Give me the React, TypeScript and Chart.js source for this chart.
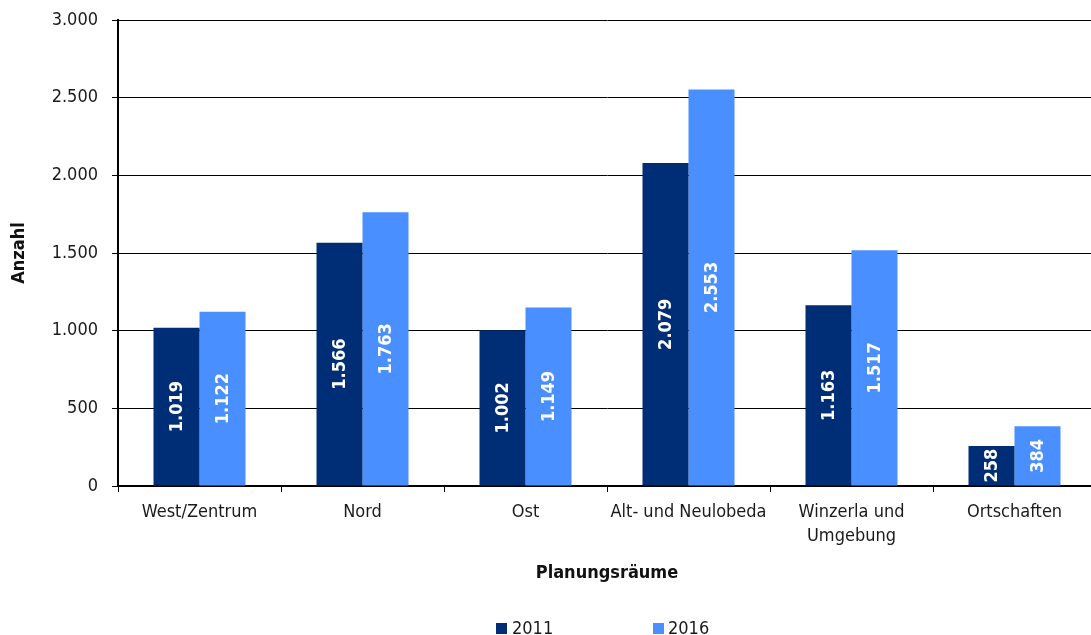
import React, { useEffect, useRef } from "react";
import { Chart, registerables } from "chart.js";

Chart.register(...registerables);

const categories: (string | string[])[] = [
  "West/Zentrum",
  "Nord",
  "Ost",
  "Alt- und Neulobeda",
  ["Winzerla und", "Umgebung"],
  "Ortschaften",
];
const values2011 = [1019, 1566, 1002, 2079, 1163, 258];
const values2016 = [1122, 1763, 1149, 2553, 1517, 384];
const seriesNames = ["2011", "2016"];
const colors = ["#002E76", "#4A8FFF"];
const yTickMin = 0;
const yTickMax = 3000;
const yTickStep = 500;

const FONT = "'DejaVu Sans Condensed', 'DejaVu Sans', sans-serif";

function fmt(v: number): string {
  const s = Math.round(v).toString();
  return s.replace(/\B(?=(\d{3})+(?!\d))/g, ".");
}

const barLabelPlugin = {
  id: "barLabels",
  afterDatasetsDraw(chart: any) {
    const ctx = chart.ctx;
    chart.data.datasets.forEach((ds: any, di: number) => {
      const meta = chart.getDatasetMeta(di);
      meta.data.forEach((bar: any, i: number) => {
        const { x, y, base } = bar.getProps(["x", "y", "base"], true);
        const cy = (y + base) / 2;
        ctx.save();
        ctx.translate(x, cy);
        ctx.rotate(-Math.PI / 2);
        ctx.font = `bold 18px ${FONT}`;
        ctx.fillStyle = "#ffffff";
        ctx.textAlign = "center";
        ctx.textBaseline = "middle";
        ctx.fillText(fmt(ds.data[i]), 0, 1);
        ctx.restore();
      });
    });
  },
};

export default function App() {
  const ref = useRef<HTMLCanvasElement | null>(null);

  useEffect(() => {
    if (!ref.current) return;
    const chart = new Chart(ref.current, {
      type: "bar",
      data: {
        labels: categories,
        datasets: [
          {
            label: seriesNames[0],
            data: values2011,
            backgroundColor: colors[0],
            categoryPercentage: 0.5644,
            barPercentage: 1,
          },
          {
            label: seriesNames[1],
            data: values2016,
            backgroundColor: colors[1],
            categoryPercentage: 0.5644,
            barPercentage: 1,
          },
        ],
      },
      options: {
        responsive: false,
        animation: false,
        devicePixelRatio: 1,
        layout: { padding: { top: 20, right: 0, bottom: 0, left: 0 } },
        plugins: {
          legend: { display: false },
          tooltip: { enabled: false },
        },
        scales: {
          x: {
            offset: true,
            grid: {
              display: true,
              drawOnChartArea: false,
              drawTicks: true,
              tickLength: 6,
              color: "#000",
              offset: true,
            },
            border: { display: true, color: "#000", width: 2 },
            ticks: {
              color: "#1a1a1a",
              padding: 8,
              maxRotation: 0,
              autoSkip: false,
              font: { family: FONT, size: 18, lineHeight: 1.35 },
            },
            title: {
              display: true,
              text: "Planungsräume",
              color: "#111",
              font: { family: FONT, size: 18, weight: "bold", lineHeight: 1.2 },
              padding: { top: 0, bottom: 51 },
            },
            afterFit: (scale: any) => {
              scale.height = 149;
            },
          },
          y: {
            min: yTickMin,
            max: yTickMax,
            ticks: {
              stepSize: yTickStep,
              color: "#1a1a1a",
              padding: 14,
              font: { family: FONT, size: 18 },
              callback: (v: any) => fmt(Number(v)),
            },
            grid: {
              color: "#000",
              lineWidth: 1,
              tickLength: 6,
              drawTicks: true,
            },
            border: { display: true, color: "#000", width: 2 },
            title: {
              display: true,
              text: "Anzahl",
              color: "#111",
              font: { family: FONT, size: 18, weight: "bold", lineHeight: 1.2 },
              padding: { top: 9, bottom: 0 },
            },
            afterFit: (scale: any) => {
              scale.width = 118;
              scale.paddingTop = 0;
              scale.paddingBottom = 0;
            },
          },
        },
      },
      plugins: [barLabelPlugin],
    });
    return () => chart.destroy();
  }, []);

  const legendText: React.CSSProperties = {
    position: "absolute",
    fontFamily: FONT,
    fontSize: 18,
    lineHeight: "18px",
    color: "#1a1a1a",
    top: 619,
    whiteSpace: "nowrap",
  };
  const box: React.CSSProperties = {
    position: "absolute",
    width: 11,
    height: 11,
    top: 623,
  };

  return (
    <div
      style={{
        position: "absolute",
        left: 0,
        top: 0,
        width: 1091,
        height: 635,
        overflow: "hidden",
        background: "#fff",
      }}
    >
      <canvas ref={ref} width={1096} height={635} style={{ width: 1096, height: 635, display: "block" }} />
      <div style={{ ...box, left: 496, background: colors[0] }} />
      <div style={{ ...legendText, left: 512 }}>{seriesNames[0]}</div>
      <div style={{ ...box, left: 653, background: colors[1] }} />
      <div style={{ ...legendText, left: 668 }}>{seriesNames[1]}</div>
    </div>
  );
}
